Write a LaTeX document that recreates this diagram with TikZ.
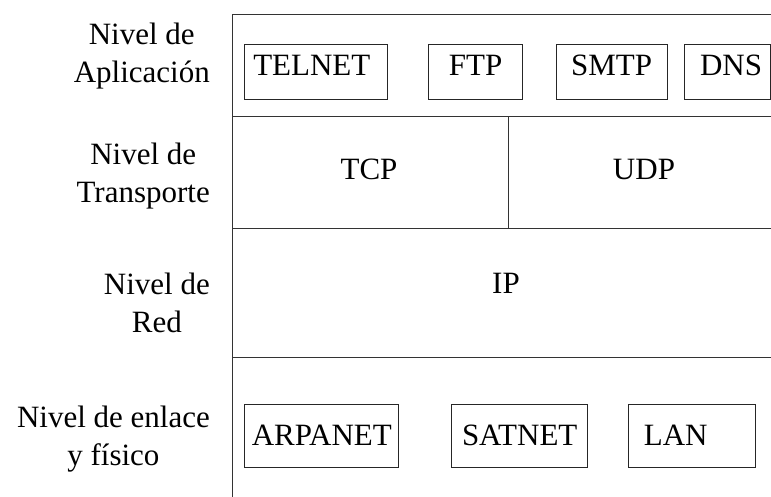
\documentclass[tikz,border=0pt]{standalone}
\usepackage{fontspec}
\setmainfont{Liberation Serif}
\newcommand{\fsz}{\fontsize{31}{37.8}\selectfont}
\begin{document}
\begin{tikzpicture}[x=1pt,y=1pt,
  frame/.style={line width=1pt, draw=black!80},
  boxbase/.style={draw=black!85, line width=0.9pt, inner sep=0pt, font=\fsz},
  topbox/.style={boxbase, minimum height=55pt, text height=20pt, text depth=11pt},
  lowbox/.style={boxbase, minimum height=63pt, text height=25.5pt, text depth=6.5pt},
  lvl/.style={font=\fsz, align=center, anchor=north east, inner sep=0pt},
  row/.style={font=\fsz, anchor=base, inner sep=0pt}]
\useasboundingbox (0,0) rectangle (771,-497);
% frame coordinates
\coordinate (tl) at (232.5,-15);
\coordinate (tr) at (771,-15);
\coordinate (bl) at (232.5,-497);
\coordinate (l1) at (232.5,-117);
\coordinate (r1) at (771,-117);
\coordinate (l2) at (232.5,-229);
\coordinate (r2) at (771,-229);
\coordinate (l3) at (232.5,-357);
\coordinate (r3) at (771,-357);
\coordinate (dt) at (508,-117);
\coordinate (db) at (508,-229);
\draw[frame] (tr) -- (tl) -- (bl);
\draw[frame] (l1) -- (r1);
\draw[frame] (l2) -- (r2);
\draw[frame] (l3) -- (r3);
\draw[frame] (dt) -- (db);
% level labels
\node[lvl] (lapp) at (210,-23) {Nivel de\\Aplicación};
\node[lvl] (ltra) at (210,-143) {Nivel de\\Transporte};
\node[lvl] (lred) at (210,-273) {Nivel de\\Red};
\node[lvl] (lenl) at (210,-406) {Nivel de enlace\\y físico};
% application boxes
\node[topbox, minimum width=143pt] (telnet) at (316.3,-71.5) {TELNET\hspace*{9pt}};
\node[topbox, minimum width=94pt] (ftp) at (475.7,-71.5) {FTP};
\node[topbox, minimum width=111pt] (smtp) at (611.5,-71.5) {SMTP};
\node[topbox, minimum width=86pt] (dns) at (727,-71.5) {\hspace*{8pt}DNS};
% transport / network
\node[row] (tcp) at (369,-180) {TCP};
\node[row] (udp) at (644,-180) {UDP};
\node[row] (ip) at (506,-293) {IP};
% link boxes
\node[lowbox, minimum width=154pt] (arpanet) at (321.8,-435.5) {ARPANET};
\node[lowbox, minimum width=135.6pt] (satnet) at (519.7,-435.5) {SATNET};
\node[lowbox, minimum width=127pt] (lan) at (691.7,-435.5) {LAN\hspace*{32pt}};
\end{tikzpicture}
\end{document}
